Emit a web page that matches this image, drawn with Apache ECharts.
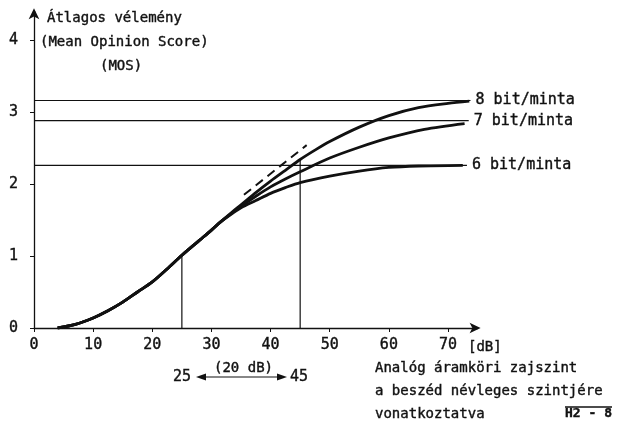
<!DOCTYPE html>
<html><head><meta charset="utf-8">
<script src="https://cdn.jsdelivr.net/npm/echarts@6/dist/echarts.min.js"></script>
<style>html,body{margin:0;padding:0;background:#fff}#c{width:618px;height:421px}</style>
</head><body><div id="c"></div>
<script>
const xTicks = [0, 10, 20, 30, 40, 50, 60, 70];
const yTicks = [0, 1, 2, 3, 4];
const commonX = [4, 7, 10, 12.5, 15, 17.5, 20, 22.5, 25, 28, 30, 31.5];
const commonY = [0, 0.05, 0.14, 0.24, 0.36, 0.5, 0.64, 0.82, 1.01, 1.22, 1.36, 1.47];
const bit8X = [33.5, 35, 37.5, 40, 42.5, 45, 47.5, 50, 55, 60, 65, 70, 73.6];
const bit8Y = [1.61, 1.71, 1.88, 2.04, 2.19, 2.34, 2.47, 2.59, 2.79, 2.95, 3.06, 3.12, 3.15];
const bit7X = [33.5, 35, 37.5, 40, 42.5, 45, 50, 55, 60, 66, 72.8];
const bit7Y = [1.60, 1.69, 1.83, 1.96, 2.07, 2.17, 2.36, 2.51, 2.64, 2.76, 2.84];
const bit6X = [33.5, 35, 37.5, 40, 42.5, 45, 50, 55, 60, 65, 72.5];
const bit6Y = [1.59, 1.67, 1.77, 1.87, 1.95, 2.02, 2.11, 2.18, 2.23, 2.25, 2.26];
const dashX = [35.5, 46.1];
const dashY = [1.85, 2.54];
const levels = [3.16, 2.88, 2.26];
const levelLabels = ['8 bit/minta', '7 bit/minta', '6 bit/minta'];
const levelEndX = 73.8;
const markX = [25, 45];
const markY = [1.01, 2.35];

const pts = (xs, ys) => xs.map((x, i) => [x, ys[i]]);
const curve = (xs, ys) => pts(commonX.concat(xs), commonY.concat(ys));
const INK = '#111';
const FONT = 'DejaVu Sans Mono';

const series = [];
[[bit8X, bit8Y], [bit7X, bit7Y], [bit6X, bit6Y]].forEach(([xs, ys]) => {
  series.push({ type: 'line', data: curve(xs, ys), smooth: 0.3, symbol: 'none',
    lineStyle: { color: INK, width: 2.8 }, z: 5, silent: true });
});
series.push({ type: 'line', data: pts(dashX, dashY), symbol: 'none',
  lineStyle: { color: INK, width: 2, type: [9, 6] }, z: 4, silent: true });
levels.forEach((v, i) => {
  series.push({ type: 'line', data: [[0, v], [levelEndX - i * 0.3, v]], symbol: 'none',
    lineStyle: { color: INK, width: 1.2 }, z: 3, silent: true,
    endLabel: { show: true, formatter: levelLabels[i], color: INK, fontFamily: FONT, fontSize: 15, distance: 5,
      textBorderColor: INK, textBorderWidth: 0.4 } });
});
markX.forEach((x, i) => {
  series.push({ type: 'line', data: [[x, 0], [x, markY[i]]], symbol: 'none',
    lineStyle: { color: INK, width: 1.2 }, z: 3, silent: true });
});

const txt = (x, y, t, extra) => Object.assign({ type: 'text', x, y,
  style: Object.assign({ text: t, fill: INK, stroke: INK, lineWidth: 0.4, font: '14px "' + FONT + '"', textVerticalAlign: 'middle' }, extra || {}) });

const chart = echarts.init(document.getElementById('c'), null, { renderer: 'canvas' });
chart.setOption({
  animation: false,
  backgroundColor: '#fff',
  grid: { left: 34, top: 11.2, right: 140.4, bottom: 93, containLabel: false },
  xAxis: {
    type: 'value', min: 0, max: 75, interval: 10,
    axisLine: { show: true, lineStyle: { color: INK, width: 1.3 }, symbol: ['none', 'arrow'], symbolSize: [8, 11], symbolOffset: [0, 3] },
    axisTick: { show: true, length: 4, lineStyle: { color: INK }, customValues: xTicks },
    axisLabel: { color: INK, fontFamily: FONT, fontSize: 15, margin: 10, customValues: xTicks, textBorderColor: INK, textBorderWidth: 0.4 },
    splitLine: { show: false }
  },
  yAxis: {
    type: 'value', min: 0, max: 4.4, interval: 1,
    axisLine: { show: true, lineStyle: { color: INK, width: 1.3 }, symbol: ['none', 'arrow'], symbolSize: [8, 11], symbolOffset: [0, 3] },
    axisTick: { show: true, length: 4, lineStyle: { color: INK }, customValues: yTicks },
    axisLabel: { color: INK, fontFamily: FONT, fontSize: 15, margin: 16, customValues: yTicks, textBorderColor: INK, textBorderWidth: 0.4 },
    splitLine: { show: false }
  },
  series,
  graphic: [
    txt(47, 18, 'Átlagos vélemény'),
    txt(40, 42, '(Mean Opinion Score)'),
    txt(100, 66, '(MOS)'),
    txt(468, 347, '[dB]'),
    txt(375, 368, 'Analóg áramköri zajszint'),
    txt(375, 391, 'a beszéd névleges szintjére'),
    txt(375, 414, 'vonatkoztatva'),
    txt(173, 377, '25', { font: '15px "' + FONT + '"' }),
    txt(290, 377, '45', { font: '15px "' + FONT + '"' }),
    txt(214, 368, '(20 dB)'),
    { type: 'line', shape: { x1: 200, y1: 377, x2: 282, y2: 377 }, style: { stroke: INK, lineWidth: 1.2 } },
    { type: 'polygon', shape: { points: [[196, 377], [206, 373.5], [206, 380.5]] }, style: { fill: INK } },
    { type: 'polygon', shape: { points: [[287, 377], [277, 373.5], [277, 380.5]] }, style: { fill: INK } },
    txt(565, 414, 'H2 - 8', { font: 'bold 13px "' + FONT + '"' }),
    { type: 'line', shape: { x1: 565, y1: 407, x2: 612, y2: 407 }, style: { stroke: INK, lineWidth: 1.5 } }
  ]
});
</script>
</body></html>
